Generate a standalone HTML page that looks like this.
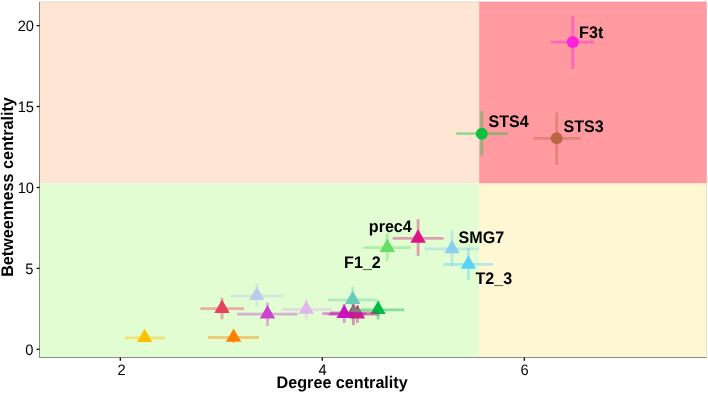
<!DOCTYPE html>
<html><head><meta charset="utf-8"><title>Centrality plot</title>
<style>
html,body{margin:0;padding:0;background:#fff;}
body{width:708px;height:393px;overflow:hidden;}
svg{display:block;will-change:transform;}
text{font-family:"Liberation Sans",Arial,sans-serif;fill:#000;text-rendering:geometricPrecision;}
.tick{font-size:14.67px;fill:#000;}
.lab{font-size:16.1px;font-weight:bold;}
.ttl{font-size:16.17px;font-weight:bold;}
</style></head><body>
<svg width="708" height="393" viewBox="0 0 708 393">
<rect x="0" y="0" width="708" height="393" fill="#ffffff"/>

<rect x="39.5" y="1.8" width="439.7" height="181.6" fill="#FFE5D4"/>
<rect x="479.2" y="1.8" width="227.3" height="181.6" fill="#FF9AA0"/>
<rect x="39.5" y="183.4" width="439.7" height="174.1" fill="#E2FDD2"/>
<rect x="479.2" y="183.4" width="227.3" height="174.1" fill="#FFF6D4"/>
<circle cx="572.8" cy="42.1" r="6" fill="#FF22DD"/>
<circle cx="481.8" cy="133.7" r="6" fill="#0FC040"/>
<circle cx="556.7" cy="138.3" r="6" fill="#BB6644"/>
<polygon points="144.6,328.7 136.9,342.1 152.3,342.1" fill="#FFC000"/>
<polygon points="233.6,328.4 225.9,341.8 241.3,341.8" fill="#FF8000"/>
<polygon points="222.0,299.5 214.3,312.9 229.7,312.9" fill="#E84060"/>
<polygon points="256.8,286.7 249.1,300.1 264.5,300.1" fill="#B8CCEE"/>
<polygon points="267.5,305.1 259.8,318.5 275.2,318.5" fill="#CC44CC"/>
<polygon points="306.3,300.4 298.6,313.8 314.0,313.8" fill="#DDB8EE"/>
<polygon points="352.7,290.7 345.0,304.1 360.4,304.1" fill="#66CCBB"/>
<polygon points="353.4,303.9 345.7,317.3 361.1,317.3" fill="#B01878"/>
<polygon points="357.4,305.2 349.7,318.6 365.1,318.6" fill="#C8228A"/>
<polygon points="344.2,304.5 336.5,317.9 351.9,317.9" fill="#CC11CC"/>
<polygon points="378.1,300.7 370.4,314.1 385.8,314.1" fill="#00BB44"/>
<polygon points="387.3,238.6 379.6,252.0 395.0,252.0" fill="#66DD66"/>
<polygon points="418.1,229.3 410.4,242.7 425.8,242.7" fill="#E0108A"/>
<polygon points="452.0,239.8 444.3,253.2 459.7,253.2" fill="#8BD0EE"/>
<polygon points="468.4,255.3 460.7,268.7 476.1,268.7" fill="#58D2FA"/>
<g stroke="#FF22DD" stroke-width="2.8" stroke-opacity="0.42"><line x1="550.9" y1="42.1" x2="594.0" y2="42.1"/><line x1="572.8" y1="16.0" x2="572.8" y2="69.1"/></g>
<g stroke="#0FC040" stroke-width="2.8" stroke-opacity="0.42"><line x1="456.1" y1="133.7" x2="507.8" y2="133.7"/><line x1="481.8" y1="111.2" x2="481.8" y2="155.5"/></g>
<g stroke="#BB6644" stroke-width="2.8" stroke-opacity="0.42"><line x1="533.8" y1="138.3" x2="580.4" y2="138.3"/><line x1="556.7" y1="112.6" x2="556.7" y2="164.9"/></g>
<g stroke="#FFC000" stroke-width="2.8" stroke-opacity="0.42"><line x1="124.9" y1="337.8" x2="165.0" y2="337.8"/><line x1="144.6" y1="335.5" x2="144.6" y2="340.5"/></g>
<g stroke="#FF8000" stroke-width="2.8" stroke-opacity="0.42"><line x1="208.2" y1="337.5" x2="259.0" y2="337.5"/><line x1="233.6" y1="335.0" x2="233.6" y2="343.0"/></g>
<g stroke="#E84060" stroke-width="2.8" stroke-opacity="0.42"><line x1="200.3" y1="308.6" x2="244.1" y2="308.6"/><line x1="222.0" y1="297.7" x2="222.0" y2="319.4"/></g>
<g stroke="#B8CCEE" stroke-width="2.8" stroke-opacity="0.42"><line x1="230.8" y1="295.8" x2="283.6" y2="295.8"/><line x1="256.8" y1="283.6" x2="256.8" y2="306.7"/></g>
<g stroke="#CC44CC" stroke-width="2.8" stroke-opacity="0.42"><line x1="237.0" y1="314.2" x2="297.7" y2="314.2"/><line x1="267.5" y1="302.5" x2="267.5" y2="326.0"/></g>
<g stroke="#DDB8EE" stroke-width="2.8" stroke-opacity="0.42"><line x1="281.9" y1="309.5" x2="331.9" y2="309.5"/><line x1="306.3" y1="299.4" x2="306.3" y2="319.3"/></g>
<g stroke="#66CCBB" stroke-width="2.8" stroke-opacity="0.42"><line x1="328.1" y1="299.8" x2="377.1" y2="299.8"/><line x1="352.7" y1="286.8" x2="352.7" y2="308.0"/></g>
<g stroke="#B01878" stroke-width="2.8" stroke-opacity="0.42"><line x1="330.0" y1="313.0" x2="377.0" y2="313.0"/><line x1="353.4" y1="304.0" x2="353.4" y2="325.2"/></g>
<g stroke="#C8228A" stroke-width="2.8" stroke-opacity="0.42"><line x1="328.4" y1="314.3" x2="379.3" y2="314.3"/><line x1="357.4" y1="305.0" x2="357.4" y2="323.0"/></g>
<g stroke="#CC11CC" stroke-width="2.8" stroke-opacity="0.42"><line x1="322.3" y1="313.6" x2="366.0" y2="313.6"/><line x1="344.2" y1="304.0" x2="344.2" y2="323.0"/></g>
<g stroke="#00BB44" stroke-width="2.8" stroke-opacity="0.42"><line x1="352.4" y1="309.8" x2="404.0" y2="309.8"/><line x1="378.1" y1="300.5" x2="378.1" y2="319.5"/></g>
<g stroke="#66DD66" stroke-width="2.8" stroke-opacity="0.42"><line x1="363.3" y1="247.7" x2="410.5" y2="247.7"/><line x1="387.3" y1="233.3" x2="387.3" y2="260.7"/></g>
<g stroke="#D4207E" stroke-width="2.8" stroke-opacity="0.42"><line x1="392.7" y1="238.4" x2="443.6" y2="238.4"/><line x1="418.1" y1="219.2" x2="418.1" y2="255.9"/></g>
<g stroke="#8BD0EE" stroke-width="2.8" stroke-opacity="0.42"><line x1="424.6" y1="248.9" x2="479.2" y2="248.9"/><line x1="452.0" y1="230.5" x2="452.0" y2="266.4"/></g>
<g stroke="#58D2FA" stroke-width="2.8" stroke-opacity="0.42"><line x1="443.6" y1="264.4" x2="493.0" y2="264.4"/><line x1="468.4" y1="248.0" x2="468.4" y2="280.0"/></g>
<polygon points="353.4,305.4 349.6,312.2 360.4,312.2 358.9,308.8 355.9,308.6" fill="#86887c" fill-opacity="0.85"/>
<path d="M39.5 1.8V357.5H706.5" fill="none" stroke="#333" stroke-opacity="0.8" stroke-width="0.7"/>
<path d="M39.5 1.8H706.5V357.5" fill="none" stroke="#555" stroke-opacity="0.25" stroke-width="0.6"/>
<line x1="36.6" y1="349.3" x2="39.5" y2="349.3" stroke="#000" stroke-width="1.25"/>
<text class="tick" transform="translate(33.4,355.1) scale(1,1.03)" text-anchor="end">0</text>
<line x1="36.6" y1="268.4" x2="39.5" y2="268.4" stroke="#000" stroke-width="1.25"/>
<text class="tick" transform="translate(33.4,274.2) scale(1,1.03)" text-anchor="end">5</text>
<line x1="36.6" y1="187.5" x2="39.5" y2="187.5" stroke="#000" stroke-width="1.25"/>
<text class="tick" transform="translate(34.0,193.3) scale(1,1.03)" text-anchor="end">10</text>
<line x1="36.6" y1="106.5" x2="39.5" y2="106.5" stroke="#000" stroke-width="1.25"/>
<text class="tick" transform="translate(34.0,112.3) scale(1,1.03)" text-anchor="end">15</text>
<line x1="36.6" y1="25.6" x2="39.5" y2="25.6" stroke="#000" stroke-width="1.25"/>
<text class="tick" transform="translate(34.0,31.4) scale(1,1.03)" text-anchor="end">20</text>
<line x1="120.3" y1="357.5" x2="120.3" y2="360.7" stroke="#000" stroke-width="1.25"/>
<text class="tick" transform="translate(121.5,375.1) scale(1,1.03)" text-anchor="middle">2</text>
<line x1="322.3" y1="357.5" x2="322.3" y2="360.7" stroke="#000" stroke-width="1.25"/>
<text class="tick" transform="translate(322.6,375.1) scale(1,1.03)" text-anchor="middle">4</text>
<line x1="524.3" y1="357.5" x2="524.3" y2="360.7" stroke="#000" stroke-width="1.25"/>
<text class="tick" transform="translate(524.6,375.1) scale(1,1.03)" text-anchor="middle">6</text>
<text class="ttl" transform="translate(276.6,388.0) scale(1,1.04)">Degree centrality</text>
<text class="ttl" transform="translate(13.0,276.8) rotate(-90) scale(1,1.04)">Betweenness centrality</text>
<text class="lab" transform="translate(579.1,37.8) scale(1,1.04)">F3t</text>
<text class="lab" transform="translate(488.5,126.9) scale(1,1.04)">STS4</text>
<text class="lab" transform="translate(563.4,132.0) scale(1,1.04)">STS3</text>
<text class="lab" transform="translate(368.8,231.6) scale(1,1.04)">prec4</text>
<text class="lab" transform="translate(344.1,268.2) scale(1,1.04)">F1_2</text>
<text class="lab" transform="translate(458.5,243.1) scale(1,1.04)">SMG7</text>
<text class="lab" transform="translate(475.4,284.1) scale(1,1.04)">T2_3</text>
</svg></body></html>
